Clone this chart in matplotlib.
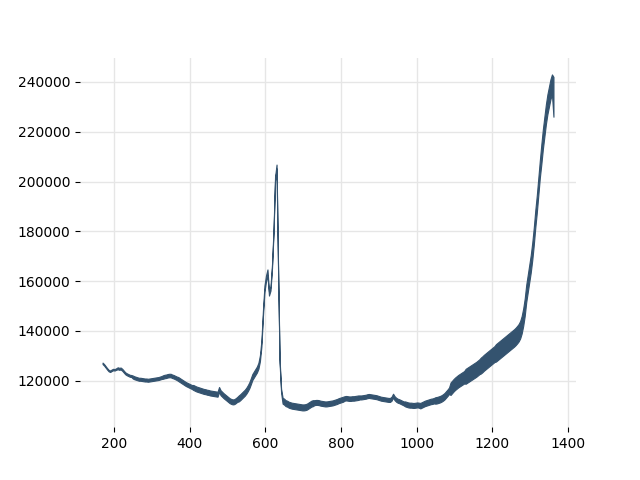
import numpy as np
import matplotlib
matplotlib.use("Agg")
import matplotlib.pyplot as plt

# spectrum sampled every 4 units from 170; the signal is very noisy so
# the lower and upper edge of the noise band are read off (in thousands)
x_start = 170
x_step = 4
high_k = [
    127.3, 126.7, 125.9, 125.1, 124.4, 124.1, 124.5, 124.8, 124.7, 125.0,
    125.4, 125.2, 125.3, 124.8, 124.1, 123.4, 123.0, 122.7, 122.4, 122.3,
    122.1, 121.8, 121.6, 121.4, 121.2, 121.2, 121.1, 121.0, 120.9, 120.9,
    120.8, 120.9, 121.0, 121.1, 121.2, 121.3, 121.4, 121.5, 121.7, 121.9,
    122.2, 122.4, 122.5, 122.7, 122.8, 122.8, 122.5, 122.3, 122.0, 121.7,
    121.5, 121.1, 120.7, 120.3, 119.9, 119.5, 119.2, 118.9, 118.6, 118.3,
    118.3, 118.0, 117.7, 117.5, 117.3, 117.1, 116.9, 116.7, 116.6, 116.4,
    116.3, 116.1, 116.0, 115.9, 115.8, 115.7, 115.6, 117.5, 116.2, 115.6,
    115.0, 114.5, 114.0, 113.5, 113.0, 112.7, 112.5, 112.6, 113.0, 113.5,
    114.1, 114.6, 115.2, 115.8, 116.4, 117.2, 118.2, 119.4, 121.0, 122.7,
    123.7, 124.7, 125.7, 127.2, 130.2, 136.2, 148.2, 158.2, 162.2, 164.7,
    155.8, 157.8, 166.8, 180.8, 201.8, 206.8, 165.8, 128.8, 116.8, 113.2,
    112.8, 112.2, 112.0, 111.6, 111.4, 111.2, 111.1, 111.0, 110.9, 110.8,
    110.7, 110.6, 110.5, 110.5, 110.6, 110.8, 111.2, 111.6, 112.0, 112.2,
    112.2, 112.3, 112.3, 112.2, 112.0, 111.9, 111.8, 111.7, 111.7, 111.8,
    111.9, 112.0, 112.1, 112.3, 112.5, 112.7, 113.0, 113.2, 113.4, 113.6,
    113.8, 113.9, 113.8, 113.7, 113.7, 113.8, 113.8, 113.9, 114.0, 114.1,
    114.1, 114.1, 114.2, 114.3, 114.4, 114.6, 114.7, 114.6, 114.5, 114.4,
    114.3, 114.2, 114.0, 113.8, 113.6, 113.5, 113.4, 113.3, 113.2, 113.1,
    113.1, 113.6, 114.8, 113.8, 113.2, 112.8, 112.6, 112.3, 112.0, 111.7,
    111.7, 111.5, 111.3, 111.2, 111.2, 111.1, 111.1, 111.2, 111.3, 111.2,
    111.1, 111.4, 111.7, 112.0, 112.2, 112.4, 112.6, 112.8, 112.9, 113.1,
    113.4, 113.5, 113.7, 113.9, 114.2, 114.6, 115.1, 115.8, 116.5, 117.3,
    119.3, 120.0, 120.7, 121.3, 121.8, 122.3, 122.7, 123.1, 123.5, 123.9,
    124.8, 125.2, 125.6, 126.0, 126.4, 126.8, 127.2, 127.6, 128.1, 128.6,
    129.3, 129.8, 130.4, 130.9, 131.4, 131.9, 132.4, 132.9, 133.4, 133.9,
    134.7, 135.2, 135.7, 136.2, 136.7, 137.2, 137.7, 138.2, 138.7, 139.2,
    139.7, 140.2, 140.7, 141.3, 142.0, 142.8, 144.0, 146.0, 149.0, 153.0,
    158.5, 162.5, 166.5, 170.5, 175.5, 181.5, 188.5, 194.5, 201.5, 208.5,
    215.0, 221.0, 226.0, 231.0, 235.0, 238.0, 241.0, 243.0, 242.0,
]
low_k = [
    126.7, 126.1, 125.3, 124.5, 123.8, 123.5, 123.9, 124.2, 124.1, 124.4,
    124.6, 124.4, 124.5, 124.0, 123.3, 122.6, 122.2, 121.9, 121.6, 121.5,
    120.9, 120.6, 120.4, 120.2, 120.0, 120.0, 119.9, 119.8, 119.7, 119.7,
    119.6, 119.7, 119.8, 119.9, 120.0, 120.1, 120.2, 120.3, 120.5, 120.7,
    120.8, 121.0, 121.1, 121.3, 121.4, 121.4, 121.1, 120.9, 120.6, 120.3,
    119.9, 119.5, 119.1, 118.7, 118.3, 117.9, 117.6, 117.3, 117.0, 116.7,
    116.3, 116.0, 115.7, 115.5, 115.3, 115.1, 114.9, 114.7, 114.6, 114.4,
    114.3, 114.1, 114.0, 113.9, 113.8, 113.7, 113.6, 115.5, 114.2, 113.6,
    113.0, 112.5, 112.0, 111.5, 111.0, 110.7, 110.5, 110.6, 111.0, 111.5,
    111.7, 112.2, 112.8, 113.4, 114.0, 114.8, 115.8, 117.0, 118.6, 120.3,
    121.3, 122.3, 123.3, 124.8, 127.8, 133.8, 145.8, 155.8, 159.8, 162.3,
    154.2, 156.2, 165.2, 179.2, 200.2, 205.2, 164.2, 127.2, 115.2, 110.8,
    110.4, 109.8, 109.6, 109.2, 109.0, 108.8, 108.7, 108.6, 108.5, 108.4,
    108.3, 108.2, 108.1, 108.1, 108.2, 108.4, 108.8, 109.2, 109.6, 109.8,
    110.2, 110.3, 110.3, 110.2, 110.0, 109.9, 109.8, 109.7, 109.7, 109.8,
    109.9, 110.0, 110.1, 110.3, 110.5, 110.7, 111.0, 111.2, 111.4, 111.6,
    112.0, 112.1, 112.0, 111.9, 111.9, 112.0, 112.0, 112.1, 112.2, 112.3,
    112.5, 112.5, 112.6, 112.7, 112.8, 113.0, 113.1, 113.0, 112.9, 112.8,
    112.7, 112.6, 112.4, 112.2, 112.0, 111.9, 111.8, 111.7, 111.6, 111.5,
    111.5, 112.0, 113.2, 112.2, 111.6, 111.2, 111.0, 110.7, 110.4, 110.1,
    109.7, 109.5, 109.3, 109.2, 109.2, 109.1, 109.1, 109.2, 109.3, 109.2,
    108.9, 109.2, 109.5, 109.8, 110.0, 110.2, 110.4, 110.6, 110.7, 110.9,
    110.8, 110.9, 111.1, 111.3, 111.6, 112.0, 112.5, 113.2, 113.9, 114.7,
    114.3, 115.0, 115.7, 116.3, 116.8, 117.3, 117.7, 118.1, 118.5, 118.9,
    118.8, 119.2, 119.6, 120.0, 120.4, 120.8, 121.2, 121.6, 122.1, 122.6,
    122.9, 123.4, 124.0, 124.5, 125.0, 125.5, 126.0, 126.5, 127.0, 127.5,
    127.7, 128.2, 128.7, 129.2, 129.7, 130.2, 130.7, 131.2, 131.7, 132.2,
    132.7, 133.2, 133.7, 134.3, 135.0, 135.8, 137.0, 139.0, 142.0, 146.0,
    151.5, 155.5, 159.5, 163.5, 168.5, 174.5, 181.5, 187.5, 194.5, 201.5,
    207.0, 213.0, 218.0, 223.0, 227.0, 230.0, 233.0, 235.0, 226.0,
]

x_ticks = [200, 400, 600, 800, 1000, 1200, 1400]
y_ticks = [120000, 140000, 160000, 180000, 200000, 220000, 240000]

high = np.array(high_k) * 1000
low = np.array(low_k) * 1000
x = x_start + x_step * np.arange(len(high))

line_color = '#34536f'

fig, ax = plt.subplots(figsize=(6.4, 4.8), dpi=100)
ax.fill_between(x, low, high, facecolor=line_color, edgecolor=line_color,
                linewidth=0.8, zorder=3)

ax.set_xticks(x_ticks)
ax.set_yticks(y_ticks)
ax.ticklabel_format(style='plain', useOffset=False)
ax.grid(True, color='#e6e6e6', linewidth=1, zorder=0)
ax.set_axisbelow(True)
for s in ax.spines.values():
    s.set_visible(False)

fig.savefig('out.png', dpi=100)
